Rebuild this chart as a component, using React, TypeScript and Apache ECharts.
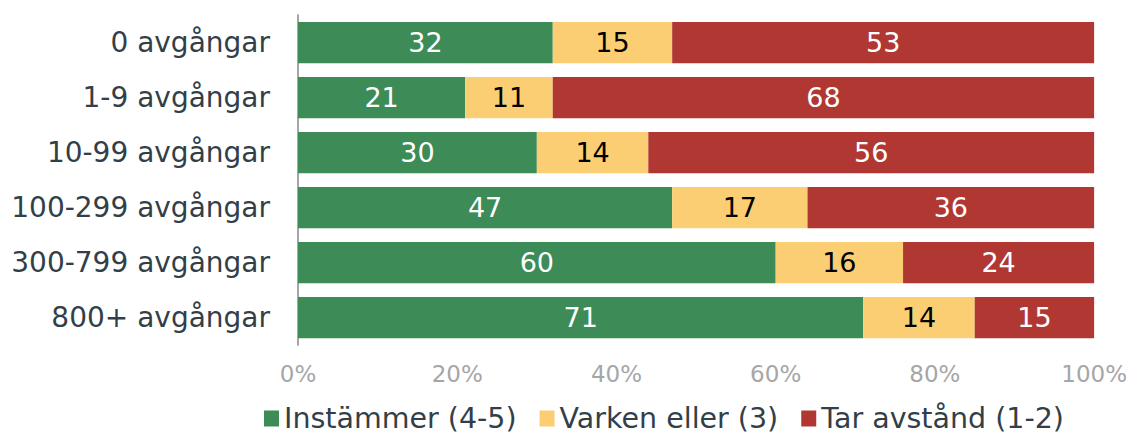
import React, { useEffect, useRef } from "react";
import * as echarts from "echarts";

const categories = ["0 avgångar", "1-9 avgångar", "10-99 avgångar", "100-299 avgångar", "300-799 avgångar", "800+ avgångar"];
const instammer = [32, 21, 30, 47, 60, 71];
const varken = [15, 11, 14, 17, 16, 14];
const tarAvstand = [53, 68, 56, 36, 24, 15];
const seriesNames = ["Instämmer (4-5)", "Varken eller (3)", "Tar avstånd (1-2)"];
const xTicks = [0, 20, 40, 60, 80, 100];

const FONT = "DejaVu Sans";

export default function App() {
  const ref = useRef<HTMLDivElement>(null);
  useEffect(() => {
    const chart = echarts.init(ref.current!, null, { renderer: "svg" });
    const mk = (name: string, data: number[], color: string, labelColor: string) => ({
      name,
      type: "bar",
      stack: "total",
      data,
      barCategoryGap: "25%",
      itemStyle: { color },
      label: {
        show: true,
        position: "inside",
        color: labelColor,
        fontSize: 27,
        fontFamily: FONT,
      },
    });
    chart.setOption({
      animation: false,
      grid: { left: 298, right: 34, top: 15, height: 330, containLabel: false },
      legend: {
        top: 404,
        left: 264,
        padding: 0,
        itemWidth: 15,
        itemHeight: 16,
        itemGap: 23,
        icon: "rect",
        textStyle: { fontSize: 28.5, lineHeight: 28, fontFamily: FONT, color: "#333f48" },
        data: seriesNames,
      },
      xAxis: {
        type: "value",
        min: 0,
        max: 100,
        interval: 20,
        axisLabel: {
          formatter: (v: number) => (xTicks.includes(v) ? v + "%" : ""),
          color: "#a6a6a6",
          fontSize: 23,
          fontFamily: FONT,
          margin: 17,
        },
        splitLine: { show: false },
        axisLine: { show: false },
        axisTick: { show: false },
      },
      yAxis: {
        type: "category",
        data: categories,
        inverse: true,
        axisLabel: { color: "#333f48", fontSize: 28, fontFamily: FONT, margin: 28 },
        axisLine: { show: true, lineStyle: { color: "#a6a6a6", width: 2 } },
        axisTick: { show: false },
      },
      series: [
        mk(seriesNames[0], instammer, "#3d8b56", "#ffffff"),
        mk(seriesNames[1], varken, "#fbce74", "#000000"),
        mk(seriesNames[2], tarAvstand, "#b13832", "#ffffff"),
      ],
    });
    return () => chart.dispose();
  }, []);
  return <div ref={ref} style={{ width: 1130, height: 437, position: "absolute", left: 0, top: 0 }} />;
}
